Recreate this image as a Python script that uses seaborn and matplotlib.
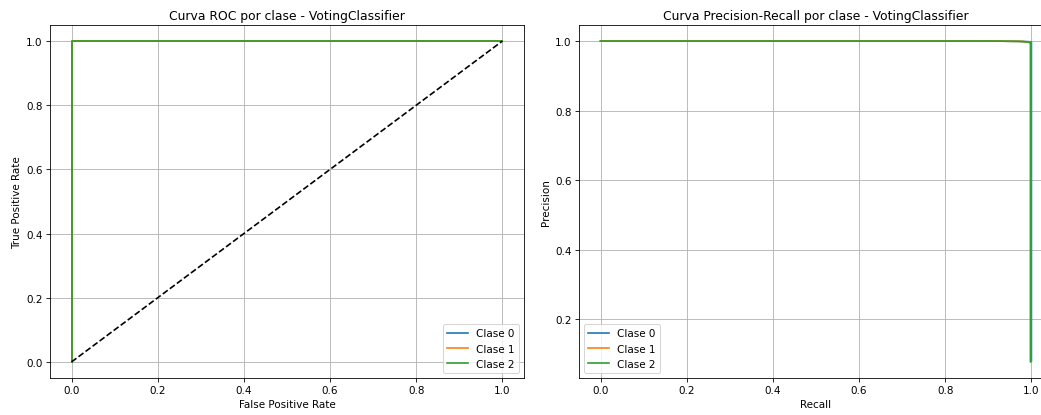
import matplotlib
matplotlib.use("Agg")
import matplotlib.pyplot as plt
import seaborn as sns
import pandas as pd

classes = ["Clase 0", "Clase 1", "Clase 2"]
colors = ["#1f77b4", "#ff7f0e", "#2ca02c"]

# ROC data per class
roc_fpr = {
    "Clase 0": [0.0, 0.0, 0.0, 1.0],
    "Clase 1": [0.0, 0.0, 0.0, 1.0],
    "Clase 2": [0.0, 0.0, 0.0, 1.0],
}
roc_tpr = {
    "Clase 0": [0.0, 0.5, 1.0, 1.0],
    "Clase 1": [0.0, 0.5, 1.0, 1.0],
    "Clase 2": [0.0, 0.5, 1.0, 1.0],
}

# Precision-Recall data per class
pr_recall = {
    "Clase 0": [0.0, 0.5, 0.9, 0.98, 0.997, 1.0, 1.0],
    "Clase 1": [0.0, 0.5, 0.9, 0.98, 0.995, 0.998, 0.998],
    "Clase 2": [0.0, 0.5, 0.9, 0.97, 0.993, 0.998, 0.998],
}
pr_precision = {
    "Clase 0": [1.0, 1.0, 1.0, 0.999, 0.998, 0.997, 0.08],
    "Clase 1": [1.0, 1.0, 1.0, 0.999, 0.997, 0.995, 0.08],
    "Clase 2": [1.0, 1.0, 1.0, 0.999, 0.997, 0.994, 0.077],
}

diag = [0.0, 1.0]

plt.rcParams["font.family"] = ["DejaVu Sans"]

DPI = 1041 / 14
fig, axes = plt.subplots(1, 2, figsize=(14, 416 / DPI), dpi=DPI)
fig.subplots_adjust(left=0.048, right=1.0115, bottom=0.089, top=0.9375, wspace=0.116)

ax = axes[0]
for c, col in zip(classes, colors):
    df = pd.DataFrame({"x": roc_fpr[c], "y": roc_tpr[c]})
    sns.lineplot(data=df, x="x", y="y", ax=ax, color=col, label=c,
                 sort=False, estimator=None, linewidth=1.6)
sns.lineplot(x=diag, y=diag, ax=ax, color="black", linestyle="--",
             linewidth=1.6, sort=False, estimator=None)
ax.set_title("Curva ROC por clase - VotingClassifier", fontsize=12)
ax.set_xlabel("False Positive Rate")
ax.set_ylabel("True Positive Rate")
ax.grid(True)
ax.legend(loc="lower right")

ax = axes[1]
for c, col in zip(classes, colors):
    df = pd.DataFrame({"x": pr_recall[c], "y": pr_precision[c]})
    sns.lineplot(data=df, x="x", y="y", ax=ax, color=col, label=c,
                 sort=False, estimator=None, linewidth=1.6)
ax.set_title("Curva Precision-Recall por clase - VotingClassifier", fontsize=12)
ax.set_xlabel("Recall")
ax.set_ylabel("Precision")
ax.grid(True)
ax.legend(loc="lower left")

fig.savefig("out.png", dpi=DPI)
